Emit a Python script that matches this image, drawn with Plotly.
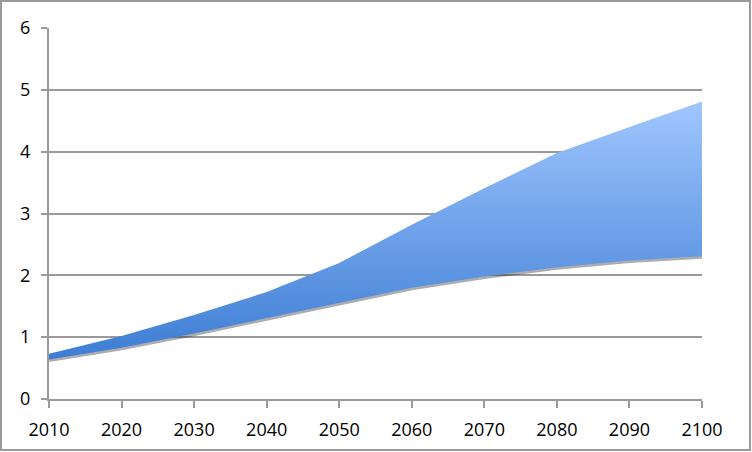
import plotly.graph_objects as go

# decades on the x axis
years = [2010, 2020, 2030, 2040, 2050, 2060, 2070, 2080, 2090, 2100]

# lower and upper edge of the band
lower = [0.64, 0.83, 1.06, 1.31, 1.56, 1.80, 1.98, 2.13, 2.24, 2.31]
upper = [0.73, 1.02, 1.36, 1.73, 2.20, 2.82, 3.41, 3.98, 4.40, 4.81]

y_ticks = [0, 1, 2, 3, 4, 5, 6]

grey = '#9a9a9a'
font = dict(family='Open Sans', size=18, color='black')

fig = go.Figure()

# soft shadow under the band
fig.add_trace(go.Scatter(
    x=years, y=lower, mode='lines',
    line=dict(color='rgba(50,50,50,0.40)', width=5),
    hoverinfo='skip', showlegend=False))

fig.add_trace(go.Scatter(
    x=years, y=lower, mode='lines',
    line=dict(width=0, color='#3f7fd5'),
    hoverinfo='skip', showlegend=False))

fig.add_trace(go.Scatter(
    x=years, y=upper, mode='lines',
    line=dict(width=0, color='#9ec4fd'),
    fill='tonexty',
    fillgradient=dict(type='vertical',
                      colorscale=[[0, '#3d7dd4'], [1, '#a0c6fe']],
                      start=min(lower), stop=max(upper)),
    hoverinfo='skip', showlegend=False))

layout = dict(
    width=752, height=452,
    margin=dict(l=49, r=50, t=28, b=53),
    paper_bgcolor='white',
    plot_bgcolor='white',
    font=font,
    showlegend=False,
    xaxis=dict(
        range=[2010, 2100], tickvals=years, showgrid=False,
        showline=True, linecolor=grey, linewidth=2,
        ticks='outside', ticklen=7, tickwidth=2, tickcolor=grey,
        ticklabelstandoff=6, zeroline=False),
    yaxis=dict(
        range=[0, 6], tickvals=y_ticks, showgrid=True,
        gridcolor=grey, gridwidth=2,
        showline=True, linecolor=grey, linewidth=2,
        ticks='outside', ticklen=6, tickwidth=2, tickcolor=grey,
        ticklabelstandoff=7, zeroline=False),
)
fig.update_layout(layout)

# outer frame of the chart
fig.add_shape(type='rect', xref='paper', yref='paper',
              x0=-0.0735, x1=1.0735, y0=-0.1375, y1=1.0728,
              line=dict(color=grey, width=2), layer='below')

fig.write_html("out.html", config={'displayModeBar': False},
               post_script="document.body.style.margin='0';")
